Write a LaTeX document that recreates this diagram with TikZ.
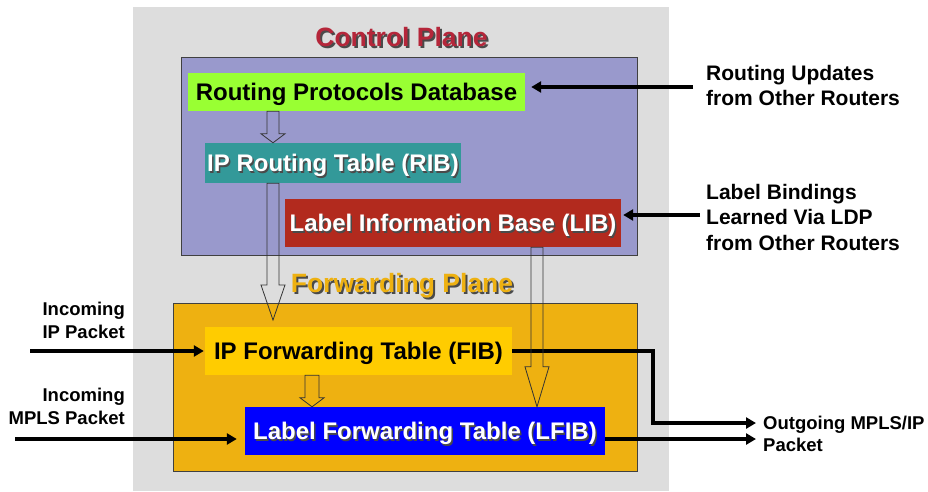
\documentclass[tikz,border=0pt]{standalone}
\usepackage{fontspec}
\setmainfont{Liberation Sans}
\usetikzlibrary{arrows.meta,calc}
\definecolor{bggray}{HTML}{DDDDDD}
\definecolor{cpblue}{HTML}{9999CC}
\definecolor{fpgold}{HTML}{EEB111}
\definecolor{rpdgreen}{HTML}{99FF33}
\definecolor{ribteal}{HTML}{339999}
\definecolor{libred}{HTML}{B22A1E}
\definecolor{fibyellow}{HTML}{FFCC00}
\definecolor{lfibblue}{HTML}{0000FF}
\definecolor{titlered}{HTML}{B5263A}
\definecolor{shadowc}{HTML}{4A4A4A}
\newcommand\shtext[3]{\leavevmode\rlap{\hspace{#1}\raisebox{-#1}{\color{shadowc}#3}}{\color{#2}#3}}
\newcommand\blockarr[5]{%
  \draw[hollow] let \p1=#1, \p2=#2 in
    (\x1-#3,\y1) -- (\x1+#3,\y1) -- (\x1+#3,\y2+#5) -- (\x1+#4,\y2+#5) --
    (\x1,\y2) -- (\x1-#4,\y2+#5) -- (\x1-#3,\y2+#5) -- cycle;}
\tikzset{
  plane/.style={draw=black!75, line width=0.9pt, inner sep=0pt},
  tbox/.style={inner sep=0pt, text height=18pt, text depth=1pt,
    font=\fontsize{24}{28}\selectfont\bfseries},
  title/.style={anchor=base, inner sep=0pt, font=\fontsize{26.5}{30}\selectfont\bfseries},
  rlbl/.style={inner sep=0pt, align=left, anchor=north west,
    font=\fontsize{21}{25.5}\selectfont\bfseries},
  slbl/.style={inner sep=0pt, font=\fontsize{18.5}{22.5}\selectfont\bfseries},
  arr/.style={line width=3.5pt, -{Triangle[length=10pt,width=11pt]}},
  hollow/.style={draw=black!80, line width=0.8pt},
}
\begin{document}
\begin{tikzpicture}[x=1pt,y=-1pt]
\useasboundingbox (0,0) rectangle (928,491);
% background panel
\node[fill=bggray, inner sep=0pt, minimum width=536pt, minimum height=484pt] (bg) at (401,249) {};
% planes
\node[plane, fill=cpblue, minimum width=456pt, minimum height=198pt] (cp) at (409,156) {};
\node[plane, fill=fpgold, minimum width=464pt, minimum height=168pt] (fp) at (405,387) {};
% titles
\node[title] (cpt) at (401.5,46) {\shtext{2pt}{titlered}{Control Plane}};
\node[title] (fpt) at (402,292) {\shtext{2pt}{fpgold}{Forwarding Plane}};
% tables
\node[tbox, fill=rpdgreen, minimum width=337pt, minimum height=38pt] (rpd) at (356.5,92) {Routing Protocols Database};
\node[tbox, fill=ribteal, minimum width=256pt, minimum height=40pt] (rib) at (333,163) {\shtext{1.5pt}{white}{IP Routing Table (RIB)}};
\node[tbox, fill=libred, minimum width=336pt, minimum height=48pt] (lib) at (453,223) {\shtext{1.5pt}{white}{Label Information Base (LIB)}};
\node[tbox, fill=fibyellow, minimum width=307pt, minimum height=48pt] (fib) at (358.5,351) {IP Forwarding Table (FIB)};
\node[tbox, fill=lfibblue, minimum width=360pt, minimum height=48pt] (lfib) at (425,431) {\shtext{1.5pt}{white}{Label Forwarding Table (LFIB)}};
% outside labels
\node[rlbl] (rul) at (706,65) {Routing Updates\\from Other Routers};
\node[rlbl] (lbl) at (706,184) {Label Bindings\\Learned Via LDP\\from Other Routers};
\node[slbl, align=right, anchor=north east] (inipl) at (125,302) {Incoming\\IP Packet};
\node[slbl, align=right, anchor=north east] (inmpl) at (125,388) {Incoming\\MPLS Packet};
\node[slbl, align=left, anchor=north west] (outl) at (763,415.5) {Outgoing MPLS/IP\\Packet};
% connector end points
\coordinate (ruS) at (693,87);
\coordinate (lbS) at (700,215);
\coordinate (inIP) at (30,351);
\coordinate (inMPLS) at (15,439);
\coordinate (outA) at (756,423);
\coordinate (outB) at (756,439);
\coordinate (bend) at (653,0);
% connectors
\draw[arr, shorten >=6pt] (ruS) -- (rpd.east |- ruS);
\draw[arr, shorten >=2pt] (lbS) -- (lib.east |- lbS);
\draw[arr, shorten >=1pt] (inIP) -- (fib.west);
\draw[arr, shorten >=8pt] (inMPLS) -- (lfib.west |- inMPLS);
\draw[arr] (fib.east) -- (bend |- fib.east) |- (outA);
\draw[arr] (lfib.east |- outB) -- (outB);
% hollow block arrows
\coordinate (c1) at (273,0);
\coordinate (c3) at (537,0);
\coordinate (c4) at (312,0);
\coordinate (t2) at (273,320);
\blockarr{(c1 |- rpd.south)}{(c1 |- rib.north)}{6pt}{12pt}{9pt}
\blockarr{(c1 |- rib.south)}{(t2)}{6pt}{12pt}{35pt}
\blockarr{(c3 |- lib.south)}{(c3 |- lfib.north)}{6pt}{12pt}{40pt}
\blockarr{(c4 |- fib.south)}{(c4 |- lfib.north)}{7pt}{12pt}{9pt}
\end{tikzpicture}
\end{document}
